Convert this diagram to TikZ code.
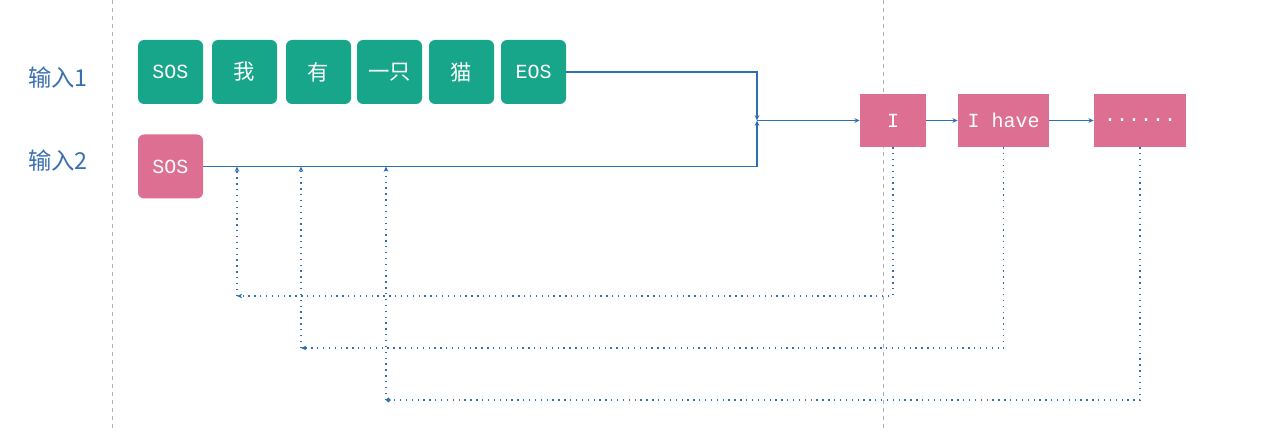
\documentclass[tikz,border=0pt]{standalone}
\usepackage{fontspec}
\setmonofont{Liberation Mono}
\newfontfamily\cjk{Noto Sans CJK SC}
\usetikzlibrary{arrows.meta}
\definecolor{tokgreen}{HTML}{18A68A}
\definecolor{tokpink}{HTML}{DD6F93}
\definecolor{linkblue}{HTML}{2E70B0}
\definecolor{labelblue}{HTML}{3A6FB0}
\tikzset{
    greenbox/.style={fill=tokgreen, rounded corners=4.5pt, minimum width=48.75pt, minimum height=48pt, inner sep=0pt, text=white},
    pinkbox/.style={fill=tokpink, minimum height=39.75pt, inner sep=0pt, text=white},
    link/.style={linkblue, line width=0.8pt},
    fb/.style={linkblue, line width=0.8pt, dash pattern=on 1pt off 3.4pt},
    tip/.style={-{Stealth[length=4pt,width=3.5pt]}},
}
\newcommand{\lat}{\ttfamily\fontsize{15}{17}\selectfont}
\newcommand{\han}{\cjk\fontsize{16}{18}\selectfont}

\begin{document}
\begin{tikzpicture}[x=0.75pt,y=-0.75pt]
        \useasboundingbox (0,0) rectangle (1268,431);
        % guide lines
        \draw[gray!60, dashed, line width=0.5pt] (112,0) -- (112,431);
        \draw[gray!60, dashed, line width=0.5pt] (883,0) -- (883,431);
        % labels
        \node[text=labelblue, font=\cjk\fontsize{17.5}{20}\selectfont] (lab1) at (58,78) {输入1};
        \node[text=labelblue, font=\cjk\fontsize{17.5}{20}\selectfont] (lab2) at (58,161) {输入2};
        % input 1
        \foreach \x/\t [count=\i] in {170.5/{\lat SOS}, 244.5/{\han 我}, 318.5/{\han 有}, 389.5/{\han 一只}, 461.5/{\han 猫}, 533.5/{\lat EOS}}
        {
            \node[greenbox] (in\i) at (\x,72) {\t};
        }
        % input 2
        \node[greenbox, fill=tokpink] (sos) at (170.5,166.5) {\lat SOS};
        % outputs
        \node[pinkbox, minimum width=49.5pt] (out1) at (893,120.5) {\lat I};
        \node[pinkbox, minimum width=68.25pt] (out2) at (1003.5,120.5) {\lat I have};
        \node[pinkbox, minimum width=69pt] (out3) at (1140,120.5) {\lat ......};
        \coordinate (merge) at (757,120.5);
        \draw[link, tip] (in6.east) -| (merge);
        \draw[link, tip] (sos.east) -| (merge);
        \draw[link, tip] (merge) -- (out1.west);
        \draw[link, tip] (out1.east) -- (out2.west);
        \draw[link, tip] (out2.east) -- (out3.west);
        % feedback
        \coordinate (f1) at (237,166.5);
        \coordinate (f2) at (301,166.5);
        \coordinate (f3) at (386,166.5);
        \coordinate (t1) at (237,296);
        \coordinate (t2) at (301,348);
        \coordinate (t3) at (386,400);
        \draw[fb, tip] (out1.south) |- (t1);
        \draw[fb, tip] (t1) -- (f1);
        \draw[fb, tip] (out2.south) |- (t2);
        \draw[fb, tip] (t2) -- (f2);
        \draw[fb, -{Circle[length=3.5pt]}] (out3.south) |- (t3);
        \draw[fb, tip] (t3) -- (f3);
    \end{tikzpicture}
\end{document}
